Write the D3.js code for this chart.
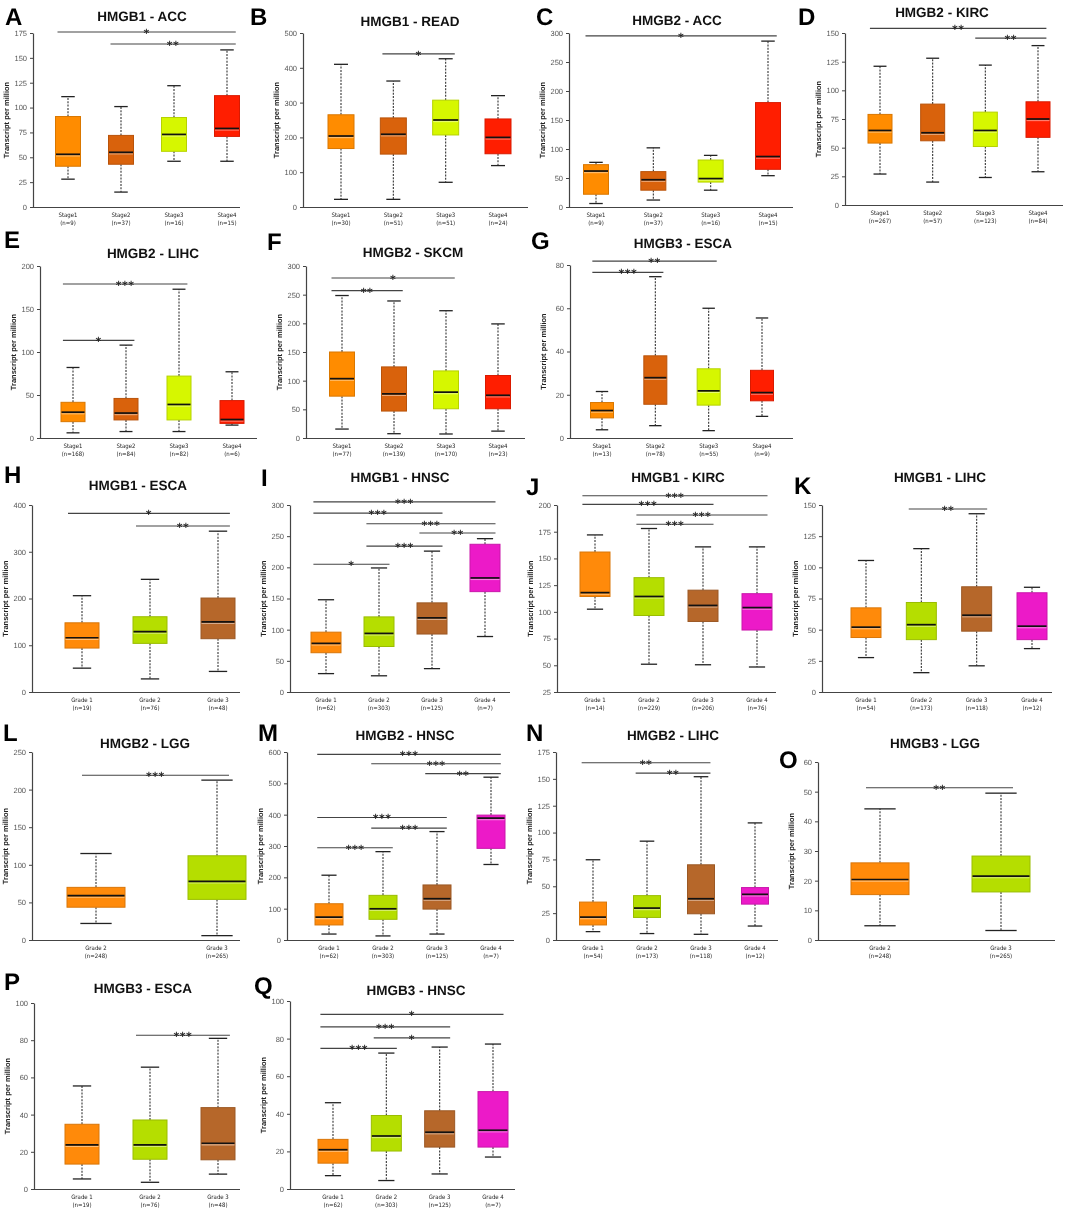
<!DOCTYPE html>
<html><head><meta charset="utf-8">
<script src="https://cdn.jsdelivr.net/npm/d3@7"></script>
<style>body{margin:0;background:#fff}svg{display:block;will-change:transform}text{text-rendering:geometricPrecision}</style>
</head><body><svg id="c" width="1065" height="1209"></svg>
<script>
// ---------- categories & colours ----------
const stageCats = ["Stage1","Stage2","Stage3","Stage4"];
const gradeCats = ["Grade 1","Grade 2","Grade 3","Grade 4"];
const grade3Cats = ["Grade 1","Grade 2","Grade 3"];
const grade23Cats = ["Grade 2","Grade 3"];
const stageColors = ["#ff8c00","#d9620c","#d6f700","#ff1e00"];
const gradeColors = ["#ff8a0a","#b5de00","#b6672a","#ec1ac8"];

// ---------- data: [min, q1, median, q3, max] per group; sig: [from, to, label, y] ----------
const titleA="HMGB1 - ACC", nA=[9,37,16,15];
const boxA=[[28,41,53,91,111],[15,43,55,72,101],[46,56,73,90,122],[46,71,79,112,158]];
const ticksA=[0,25,50,75,100,125,150,175];
const sigA=[[0,3,"*",176],[1,3,"**",164]];

const titleB="HMGB1 - READ", nB=[30,51,51,24];
const boxB=[[22,168,204,265,410],[22,152,209,256,362],[71,207,250,307,426],[119,153,200,253,320]];
const ticksB=[0,100,200,300,400,500];
const sigB=[[1,2,"*",440]];

const titleC="HMGB2 - ACC", nC=[9,37,16,15];
const boxC=[[6,22,62,73,77],[12,29,47,61,102],[29,43,49,81,89],[54,65,87,180,286]];
const ticksC=[0,50,100,150,200,250,300];
const sigC=[[0,3,"*",295]];

const titleD="HMGB2 - KIRC", nD=[267,57,123,84];
const boxD=[[27,54,65,79,121],[20,56,63,88,128],[24,51,65,81,122],[29,59,75,90,139]];
const ticksD=[0,25,50,75,100,125,150];
const sigD=[[0,3,"**",154],[2,3,"**",145.5]];

const titleE="HMGB2 - LIHC", nE=[168,84,82,6];
const boxE=[[6,19,30,41.5,82],[7.5,21,29,46,108],[7.5,21,39,72,173],[15,17,21.5,43.5,77]];
const ticksE=[0,50,100,150,200];
const sigE=[[0,2,"***",179],[0,1,"*",113.5]];

const titleF="HMGB2 - SKCM", nF=[77,139,170,23];
const boxF=[[15.6,73,103.5,150,248.5],[7.5,47,77,124,239],[7,51,80,117,222],[12,51,74.5,109,199]];
const ticksF=[0,50,100,150,200,250,300];
const sigF=[[0,2,"*",279],[0,1,"**",257]];

const titleG="HMGB3 - ESCA", nG=[13,78,55,9];
const boxG=[[3.8,9.3,12.7,16.4,21.5],[5.7,15.6,27.9,38,74.6],[3.4,15.2,21.8,32,60],[10,17.2,21,31.3,55.5]];
const ticksG=[0,20,40,60,80];
const sigG=[[0,2,"**",81.8],[0,1,"***",76.6]];

const titleH="HMGB1 - ESCA", nH=[19,76,48];
const boxH=[[51,94,116,148,206],[28,104,129,161,241],[44,114,150,201,344]];
const ticksH=[0,100,200,300,400];
const sigH=[[0,2,"*",382],[1,2,"**",355]];

const titleI="HMGB1 - HNSC", nI=[62,303,125,7];
const boxI=[[29.5,63,78,96,148],[26,73,94,120.5,199],[37.5,93,119,143,226],[89,161,183,237,246]];
const ticksI=[0,50,100,150,200,250,300];
const sigI=[[0,3,"***",305],[0,2,"***",287],[1,3,"***",270],[2,3,"**",255],[1,2,"***",234],[0,1,"*",205]];

const titleJ="HMGB1 - KIRC", nJ=[14,229,206,76];
const boxJ=[[102.5,114.4,118,156,172],[51,96.6,114.4,132,178],[50.5,91,106,120.3,160.8],[48.4,83,104,117,160.8]];
const ticksJ=[25,50,75,100,125,150,175,200];
const sigJ=[[0,3,"***",208.7],[0,2,"***",200.6],[1,3,"***",190.7],[1,2,"***",182]];

const titleK="HMGB1 - LIHC", nK=[54,173,118,12];
const boxK=[[27.6,43.7,52,67.5,105.5],[15.5,42,54,71.8,115],[21,48.8,61.6,84.4,143],[34.8,42,52.8,79.6,84]];
const ticksK=[0,25,50,75,100,125,150];
const sigK=[[1,2,"**",146.8]];

const titleL="HMGB2 - LGG", nL=[248,265];
const boxL=[[22,43.6,59,70,115],[5.8,54,78,112,212.6]];
const ticksL=[0,50,100,150,200,250];
const sigL=[[0,1,"***",219]];

const titleM="HMGB2 - HNSC", nM=[62,303,125,7];
const boxM=[[19,48,73,115.7,206.8],[13,66,99.6,142.5,282],[19,98.6,131.8,175.7,346],[241,292.5,389,398.6,519.6]];
const ticksM=[0,100,200,300,400,500,600];
const sigM=[[0,3,"***",592.5],[1,3,"***",562.5],[2,3,"**",531],[0,2,"***",391],[1,2,"***",357],[0,1,"***",294.6]];

const titleN="HMGB2 - LIHC", nN=[54,173,118,12];
const boxN=[[7.8,14,21.3,35.3,74.7],[6,21,29.7,41.3,92],[5.3,24.4,38.4,70,152],[13,33.4,42.5,48.8,109]];
const ticksN=[0,25,50,75,100,125,150,175];
const sigN=[[0,2,"**",165],[1,2,"**",155.3]];

const titleO="HMGB3 - LGG", nO=[248,265];
const boxO=[[4.8,15.3,20.4,26,44.2],[3.2,16.2,21.5,28.3,49.5]];
const ticksO=[0,10,20,30,40,50,60];
const sigO=[[0,1,"**",51.3]];

const titleP="HMGB3 - ESCA", nP=[19,76,48];
const boxP=[[5.4,13.4,23.75,34.8,55.4],[3.6,16,23.75,37.1,65.5],[8,15.7,24.6,43.75,81]];
const ticksP=[0,20,40,60,80,100];
const sigP=[[1,2,"***",82.7]];

const titleQ="HMGB3 - HNSC", nQ=[62,303,125,7];
const boxQ=[[7.1,13.75,20.9,26.4,45.9],[4.5,20.2,28.2,39.1,72.3],[8,22.3,30.2,41.6,75.5],[17,22.3,31.25,51.8,77.1]];
const ticksQ=[0,20,40,60,80,100];
const sigQ=[[0,3,"*",92.9],[0,2,"***",86.25],[1,2,"*",80.4],[0,1,"***",74.8]];

// ---------- panel table (layout only) ----------
const S=stageColors, G=gradeColors, G2=[gradeColors[0],gradeColors[1]];
const panels=[
 {id:"A",title:titleA,cats:stageCats,col:S,n:nA,box:boxA,ticks:ticksA,sig:sigA,lay:[5,25,142,21,33,240,33,207,68,227,25]},
 {id:"B",title:titleB,cats:stageCats,col:S,n:nB,box:boxB,ticks:ticksB,sig:sigB,lay:[250,25,410,26,303,528,33,207,341,498,26]},
 {id:"C",title:titleC,cats:stageCats,col:S,n:nC,box:boxC,ticks:ticksC,sig:sigC,lay:[536,25,677,25,569,793,33,207,596,768,25]},
 {id:"D",title:titleD,cats:stageCats,col:S,n:nD,box:boxD,ticks:ticksD,sig:sigD,lay:[798,25,942,17,845,1063,33,205,880,1038,24]},
 {id:"E",title:titleE,cats:stageCats,col:S,n:nE,box:boxE,ticks:ticksE,sig:sigE,lay:[4,248,153,258,40,257,266,438,73,232,24]},
 {id:"F",title:titleF,cats:stageCats,col:S,n:nF,box:boxF,ticks:ticksF,sig:sigF,lay:[267,250,413,257,306,525,266,438,342,498,25]},
 {id:"G",title:titleG,cats:stageCats,col:S,n:nG,box:boxG,ticks:ticksG,sig:sigG,lay:[531,249,683,248,570,793,265,438,602,762,23]},
 {id:"H",title:titleH,cats:grade3Cats,col:G,n:nH,box:boxH,ticks:ticksH,sig:sigH,lay:[4,483,138,490,32,240,505,692,82,218,34]},
 {id:"I",title:titleI,cats:gradeCats,col:G,n:nI,box:boxI,ticks:ticksI,sig:sigI,lay:[261,486,400,482,290,510,505,692,326,485,30]},
 {id:"J",title:titleJ,cats:gradeCats,col:G,n:nJ,box:boxJ,ticks:ticksJ,sig:sigJ,lay:[526,495,678,482,557,776,505,692,595,757,30]},
 {id:"K",title:titleK,cats:gradeCats,col:G,n:nK,box:boxK,ticks:ticksK,sig:sigK,lay:[794,494,940,482,822,1052,505,692,866,1032,30]},
 {id:"L",title:titleL,cats:grade23Cats,col:G2,n:nL,box:boxL,ticks:ticksL,sig:sigL,lay:[3,741,145,748,32,240,752,940,96,217,58]},
 {id:"M",title:titleM,cats:gradeCats,col:G,n:nM,box:boxM,ticks:ticksM,sig:sigM,lay:[258,741,405,740,287,514,752,940,329,491,28]},
 {id:"N",title:titleN,cats:gradeCats,col:G,n:nN,box:boxN,ticks:ticksN,sig:sigN,lay:[526,741,673,740,556,778,752,940,593,755,27]},
 {id:"O",title:titleO,cats:grade23Cats,col:G2,n:nO,box:boxO,ticks:ticksO,sig:sigO,lay:[779,768,935,748,818,1055,762,940,880,1001,58]},
 {id:"P",title:titleP,cats:grade3Cats,col:G,n:nP,box:boxP,ticks:ticksP,sig:sigP,lay:[4,990,143,993,34,240,1003,1189,82,218,34]},
 {id:"Q",title:titleQ,cats:gradeCats,col:G,n:nQ,box:boxQ,ticks:ticksQ,sig:sigQ,lay:[254,994,416,995,290,515,1001,1189,333,493,30]}
];

const svg=d3.select("#c");
svg.append("rect").attr("width",1065).attr("height",1209).attr("fill","#fff");
const FONT="'Liberation Sans', Arial, sans-serif";

panels.forEach(p=>{
  const [lx,ly,tx,ty,ax,xe,yt,yb,c0,c1,bw]=p.lay;
  const g=svg.append("g");
  const k=p.box.length;
  const x=d3.scalePoint().domain(d3.range(k)).range([c0,c1]);
  const y=d3.scaleLinear().domain([p.ticks[0],p.ticks[p.ticks.length-1]]).range([yb,yt]);

  g.append("text").attr("x",lx).attr("y",ly).text(p.id)
    .attr("font-family",FONT).attr("font-weight","bold").attr("font-size",24).attr("fill","#000");
  g.append("text").attr("x",tx).attr("y",ty).attr("text-anchor","middle").text(p.title)
    .attr("font-family",FONT).attr("font-weight","bold").attr("font-size",13.5).attr("fill","#111");

  const a=g.append("g").attr("transform",`translate(${ax},0)`)
    .call(d3.axisLeft(y).tickValues(p.ticks).tickSize(3).tickSizeOuter(0).tickPadding(3));
  a.select(".domain").attr("stroke","#444").attr("stroke-width",1.2);
  a.selectAll(".tick line").attr("stroke","#444").attr("stroke-width",1);
  a.selectAll(".tick text").attr("font-family",FONT).attr("font-size",7.5).attr("fill","#555");

  g.append("line").attr("x1",ax-3).attr("x2",xe).attr("y1",yb+0.5).attr("y2",yb+0.5)
    .attr("stroke","#444").attr("stroke-width",1.2);

  g.append("text").attr("transform",`translate(${ax-24},${(yt+yb)/2}) rotate(-90)`)
    .attr("text-anchor","middle").text("Transcript per million")
    .attr("font-family",FONT).attr("font-weight","bold").attr("font-size",7.5).attr("fill","#222");

  p.cats.forEach((c,i)=>{
    const t=g.append("text").attr("text-anchor","middle")
      .attr("font-family","'Liberation Sans Narrow','DejaVu Sans Condensed',sans-serif")
      .attr("font-size",6).attr("fill","#222");
    t.append("tspan").attr("x",x(i)).attr("y",yb+10).text(c);
    t.append("tspan").attr("x",x(i)).attr("y",yb+18).text(`(n=${p.n[i]})`);
  });

  const cap=Math.min(bw*0.27,16);
  p.box.forEach((b,i)=>{
    const cx=x(i), fill=p.col[i];
    const [mn,q1,md,q3,mx]=b;
    g.append("line").attr("x1",cx).attr("x2",cx).attr("y1",y(q3)).attr("y2",y(mx))
      .attr("stroke","#333").attr("stroke-width",1.1).attr("stroke-dasharray","2,1.3");
    g.append("line").attr("x1",cx).attr("x2",cx).attr("y1",y(q1)).attr("y2",y(mn))
      .attr("stroke","#333").attr("stroke-width",1.1).attr("stroke-dasharray","2,1.3");
    [mn,mx].forEach(v=>g.append("line").attr("x1",cx-cap).attr("x2",cx+cap).attr("y1",y(v)).attr("y2",y(v))
      .attr("stroke","#222").attr("stroke-width",1.3));
    g.append("rect").attr("x",cx-bw/2).attr("y",y(q3)).attr("width",bw).attr("height",y(q1)-y(q3))
      .attr("fill",fill).attr("stroke",d3.color(fill).darker(0.45)).attr("stroke-width",1);
    g.append("line").attr("x1",cx-bw/2+0.5).attr("x2",cx+bw/2-0.5).attr("y1",y(md)+1.6).attr("y2",y(md)+1.6)
      .attr("stroke",d3.interpolateRgb(fill,"#fff")(0.45)).attr("stroke-width",1.1);
    g.append("line").attr("x1",cx-bw/2+0.5).attr("x2",cx+bw/2-0.5).attr("y1",y(md)).attr("y2",y(md))
      .attr("stroke","#111").attr("stroke-width",1.7);
  });

  p.sig.forEach(([i,j,lab,v])=>{
    const x1=x(i)-Math.min(bw*0.42,14), x2=x(j)+Math.min(bw*0.35,12), yy=y(v);
    g.append("line").attr("x1",x1).attr("x2",x2).attr("y1",yy).attr("y2",yy)
      .attr("stroke","#444").attr("stroke-width",1.1);
    g.append("text").attr("x",(x1+x2)/2).attr("y",yy+5).attr("text-anchor","middle").text(lab)
      .attr("font-family","'DejaVu Sans',sans-serif").attr("font-weight","bold").attr("font-size",11)
      .attr("letter-spacing",0.5).attr("fill","#222");
  });
});
</script></body></html>
